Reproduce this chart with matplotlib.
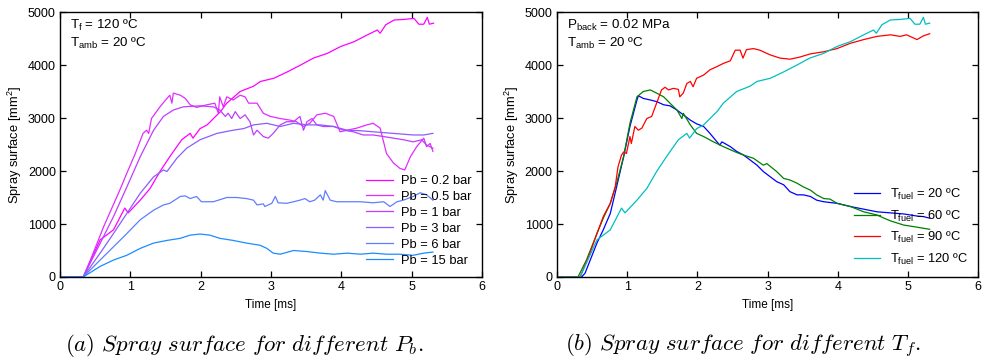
import matplotlib
matplotlib.use("Agg")
import matplotlib.pyplot as plt

plt.rcParams["font.family"] = ["Liberation Sans", "DejaVu Sans"]
plt.rcParams["mathtext.fontset"] = "custom"
plt.rcParams["mathtext.rm"] = "Liberation Sans"
plt.rcParams["mathtext.it"] = "Liberation Sans:italic"

# ---------------- data: spray surface [mm^2] vs time [ms] ----------------
# Pb = 0.2 bar, Tf = 120 C (same condition appears in both panels)
t_a = [0, 0.33, 0.57, 0.76, 0.92, 0.97, 1.14, 1.28, 1.42, 1.56, 1.73, 1.85, 1.89, 1.99,
       2.09, 2.28, 2.37, 2.56, 2.75, 2.85, 3.04, 3.23, 3.42, 3.60, 3.80, 3.99, 4.18,
       4.37, 4.51, 4.55, 4.63, 4.75, 4.89, 5.03, 5.10, 5.17, 5.22, 5.25, 5.31]
s_a = [0, 0, 700, 890, 1300, 1210, 1450, 1670, 1990, 2270, 2590, 2710, 2620, 2800,
       2870, 3120, 3280, 3500, 3600, 3690, 3750, 3870, 4000, 4130, 4220, 4350, 4440,
       4570, 4660, 4600, 4760, 4850, 4860, 4880, 4770, 4770, 4900, 4770, 4790]

# Pb = 0.5 bar
t_b = [0, 0.33, 0.45, 0.62, 0.72, 0.85, 0.95, 1.07, 1.18, 1.23, 1.26, 1.30, 1.42, 1.52,
       1.56, 1.59, 1.61, 1.71, 1.78, 1.85, 1.94, 2.09, 2.20, 2.25, 2.27, 2.32, 2.37,
       2.46, 2.56, 2.63, 2.68, 2.80, 2.89, 2.99, 3.13, 3.27, 3.36, 3.46, 3.55, 3.65,
       3.77, 3.89, 3.98, 4.08, 4.22, 4.36, 4.45, 4.55, 4.64, 4.74, 4.83, 4.90, 4.98,
       5.07, 5.17, 5.21, 5.26, 5.30]
s_b = [0, 0, 380, 950, 1250, 1640, 1960, 2330, 2710, 2770, 2710, 2990, 3210, 3370,
       3430, 3280, 3470, 3430, 3370, 3250, 3200, 3250, 3280, 3090, 3400, 3210, 3400,
       3340, 3430, 3400, 3280, 3280, 3090, 3030, 2990, 2960, 2930, 2840, 2900, 3060,
       3090, 3030, 2740, 2770, 2810, 2870, 2900, 2810, 2330, 2150, 2050, 2020, 2270,
       2460, 2620, 2460, 2520, 2370]

# Pb = 1 bar
t_c = [0, 0.33, 0.57, 0.76, 0.95, 1.14, 1.33, 1.47, 1.61, 1.75, 1.99, 2.18, 2.27, 2.35,
       2.39, 2.44, 2.49, 2.56, 2.63, 2.70, 2.75, 2.80, 2.89, 2.96, 3.03, 3.13, 3.22,
       3.32, 3.41, 3.46, 3.51, 3.58, 3.65, 3.74, 3.89, 4.03, 4.17, 4.31, 4.45, 4.60,
       4.74, 4.88, 5.02, 5.14, 5.21, 5.30]
s_c = [0, 0, 635, 1140, 1700, 2270, 2770, 3030, 3150, 3210, 3230, 3210, 3150, 3030,
       3090, 2990, 3120, 2990, 3060, 2930, 2680, 2770, 2650, 2620, 2710, 2870, 2930,
       2930, 3030, 2770, 2930, 2990, 2870, 2840, 2840, 2770, 2740, 2680, 2680, 2650,
       2620, 2590, 2550, 2590, 2490, 2430]

# Pb = 3 bar
t_d = [0, 0.33, 0.57, 0.76, 0.95, 1.14, 1.33, 1.47, 1.52, 1.66, 1.80, 1.99, 2.23, 2.46,
       2.61, 2.75, 2.94, 3.13, 3.32, 3.51, 3.70, 3.89, 4.08, 4.27, 4.45, 4.64, 4.83,
       5.02, 5.17, 5.30]
s_d = [0, 0, 450, 820, 1200, 1580, 1890, 2020, 1990, 2240, 2430, 2590, 2710, 2770,
       2800, 2870, 2900, 2840, 2900, 2870, 2870, 2840, 2770, 2760, 2740, 2720, 2700,
       2680, 2680, 2710]

# Pb = 6 bar
t_e = [0, 0.33, 0.57, 0.76, 0.95, 1.14, 1.33, 1.47, 1.56, 1.71, 1.78, 1.85, 1.94, 2.01,
       2.18, 2.37, 2.51, 2.65, 2.75, 2.80, 2.89, 2.91, 3.01, 3.06, 3.10, 3.22, 3.32,
       3.41, 3.48, 3.55, 3.62, 3.70, 3.74, 3.77, 3.84, 3.93, 4.08, 4.27, 4.45, 4.60,
       4.69, 4.79, 4.88, 5.02, 5.12, 5.21, 5.30]
s_e = [0, 0, 320, 570, 820, 1080, 1260, 1360, 1390, 1520, 1530, 1480, 1520, 1420,
       1420, 1500, 1500, 1480, 1450, 1360, 1380, 1330, 1390, 1520, 1400, 1390, 1420,
       1450, 1480, 1420, 1450, 1550, 1450, 1630, 1450, 1420, 1420, 1420, 1400, 1420,
       1330, 1420, 1450, 1520, 1590, 1550, 1450]

# Pb = 15 bar
t_f = [0, 0.33, 0.57, 0.76, 0.95, 1.14, 1.33, 1.52, 1.71, 1.85, 1.99, 2.13, 2.27, 2.46,
       2.65, 2.84, 2.94, 3.03, 3.13, 3.32, 3.51, 3.70, 3.89, 4.08, 4.27, 4.45, 4.64,
       4.83, 5.02, 5.17, 5.30]
s_f = [0, 0, 200, 320, 410, 540, 640, 690, 730, 790, 810, 790, 730, 690,
       640, 600, 540, 450, 430, 500, 480, 450, 430, 450, 430, 450, 430,
       430, 410, 450, 470]

# Tfuel = 20 C
t_20 = [0, 0.35, 0.40, 0.57, 0.66, 0.76, 0.85, 0.95, 1.04, 1.14, 1.16, 1.23, 1.33, 1.42,
        1.52, 1.61, 1.71, 1.80, 1.90, 1.99, 2.09, 2.18, 2.28, 2.32, 2.35, 2.47, 2.56,
        2.66, 2.75, 2.85, 2.94, 3.04, 3.13, 3.23, 3.32, 3.42, 3.51, 3.61, 3.70, 3.80,
        3.99, 4.18, 4.37, 4.56, 4.75, 4.94, 5.13, 5.22, 5.31]
s_20 = [0, 0, 70, 640, 890, 1200, 1700, 2270, 2840, 3340, 3420, 3370, 3340, 3310,
        3250, 3230, 3150, 3060, 2960, 2890, 2840, 2710, 2550, 2490, 2550, 2460, 2370,
        2300, 2210, 2110, 1990, 1890, 1800, 1740, 1610, 1550, 1550, 1520, 1450, 1420,
        1390, 1330, 1280, 1230, 1210, 1190, 1150, 1140, 1110]

# Tfuel = 60 C
t_60 = [0, 0.30, 0.42, 0.57, 0.66, 0.76, 0.85, 0.95, 1.04, 1.14, 1.23, 1.33, 1.42, 1.52,
        1.61, 1.71, 1.78, 1.80, 1.90, 1.99, 2.09, 2.23, 2.37, 2.56, 2.66, 2.80, 2.94,
        2.99, 3.13, 3.23, 3.32, 3.42, 3.51, 3.61, 3.70, 3.80, 3.89, 3.99, 4.18, 4.37,
        4.56, 4.66, 4.75, 4.94, 5.13, 5.31]
s_60 = [0, 0, 320, 820, 1110, 1390, 1770, 2270, 2900, 3400, 3500, 3530, 3470, 3400,
        3280, 3150, 2990, 3090, 2870, 2710, 2650, 2550, 2460, 2350, 2300, 2240, 2110,
        2140, 1990, 1860, 1830, 1770, 1700, 1640, 1550, 1480, 1470, 1390, 1330, 1230,
        1170, 1110, 1060, 980, 940, 900]

# Tfuel = 90 C
t_90 = [0, 0.33, 0.47, 0.57, 0.66, 0.76, 0.83, 0.87, 0.92, 0.95, 0.99, 1.04, 1.06, 1.11,
        1.16, 1.21, 1.28, 1.35, 1.40, 1.49, 1.54, 1.59, 1.66, 1.73, 1.75, 1.80, 1.85,
        1.90, 1.94, 1.99, 2.09, 2.18, 2.28, 2.37, 2.47, 2.54, 2.61, 2.65, 2.70, 2.80,
        2.89, 3.04, 3.18, 3.32, 3.46, 3.61, 3.80, 3.99, 4.18, 4.37, 4.56, 4.75, 4.89,
        4.98, 5.13, 5.22, 5.31]
s_90 = [0, 0, 450, 820, 1140, 1390, 1700, 2080, 2300, 2360, 2330, 2650, 2520, 2840,
        2770, 2810, 2990, 3030, 3210, 3530, 3580, 3530, 3560, 3540, 3400, 3470, 3650,
        3690, 3590, 3750, 3810, 3910, 3970, 4030, 4080, 4280, 4280, 4130, 4290, 4310,
        4280, 4190, 4130, 4110, 4150, 4210, 4250, 4310, 4410, 4480, 4540, 4570, 4540,
        4570, 4480, 4550, 4590]

pb_labels = ["Pb = 0.2 bar", "Pb = 0.5 bar", "Pb = 1 bar", "Pb = 3 bar",
             "Pb = 6 bar", "Pb = 15 bar"]
tf_labels = [r"T$_\mathrm{fuel}$ = 20 ºC", r"T$_\mathrm{fuel}$ = 60 ºC",
             r"T$_\mathrm{fuel}$ = 90 ºC", r"T$_\mathrm{fuel}$ = 120 ºC"]

pb_colors = ["#ff00ff", "#e22cff", "#c03cff", "#8c5cff", "#5f7eff", "#1a8cff"]
tf_colors = ["#0000ff", "#008000", "#ff0000", "#00bfbf"]

pb_series = [(t_a, s_a), (t_b, s_b), (t_c, s_c), (t_d, s_d), (t_e, s_e), (t_f, s_f)]
tf_series = [(t_20, s_20), (t_60, s_60), (t_90, s_90), (t_a, s_a)]

# ---------------- figure ----------------
fig = plt.figure(figsize=(9.84, 3.61), dpi=100)
ax1 = fig.add_axes([0.061, 0.2327, 0.429, 0.734])
ax2 = fig.add_axes([0.566, 0.2327, 0.428, 0.734])

def style(ax):
    ax.set_xlim(0, 6)
    ax.set_ylim(0, 5000)
    ax.set_xticks(range(0, 7))
    ax.set_yticks(range(0, 5001, 1000))
    ax.tick_params(direction="in", length=4, width=0.9, top=True, right=True,
                   labelsize=9, pad=3)
    for sp in ax.spines.values():
        sp.set_linewidth(1.0)
    ax.set_xlabel("Time [ms]", fontsize=8.5, labelpad=4)
    ax.set_ylabel(r"Spray surface [mm$^2$]", fontsize=9.3, labelpad=3)

for (t, s), c, lab in zip(pb_series, pb_colors, pb_labels):
    ax1.plot(t, s, color=c, lw=0.9, label=lab)
for (t, s), c, lab in zip(tf_series, tf_colors, tf_labels):
    ax2.plot(t, s, color=c, lw=0.9, label=lab)

style(ax1)
style(ax2)

note_kw = dict(fontsize=9.6, va="baseline")
ax1.text(0.024, 0.935, r"T$_\mathrm{f}$ = 120 ºC", transform=ax1.transAxes, **note_kw)
ax1.text(0.024, 0.867, r"T$_\mathrm{amb}$ = 20 ºC", transform=ax1.transAxes, **note_kw)
ax2.text(0.024, 0.935, r"P$_\mathrm{back}$ = 0.02 MPa", transform=ax2.transAxes, **note_kw)
ax2.text(0.024, 0.867, r"T$_\mathrm{amb}$ = 20 ºC", transform=ax2.transAxes, **note_kw)

ax1.legend(loc="lower right", bbox_to_anchor=(1.0, 0.0), frameon=False,
           fontsize=9.3, handlelength=2.1, handletextpad=0.62, labelspacing=0.3,
           borderaxespad=0.4)
ax2.legend(loc="lower right", bbox_to_anchor=(1.0, 0.0), frameon=False,
           fontsize=9.3, handlelength=2.0, handletextpad=0.75, labelspacing=0.5,
           borderaxespad=0.4)

cap_kw = dict(fontsize=16.5, math_fontfamily="cm", ha="left", va="baseline")
fig.text(0.066, 0.027, r"$(\mathit{a})\ \mathit{Spray\ surface\ for\ different}\ P_b.$", **cap_kw)
fig.text(0.574, 0.027, r"$(\mathit{b})\ \mathit{Spray\ surface\ for\ different}\ T_f.$", **cap_kw)

fig.savefig("out.png", dpi=100)
